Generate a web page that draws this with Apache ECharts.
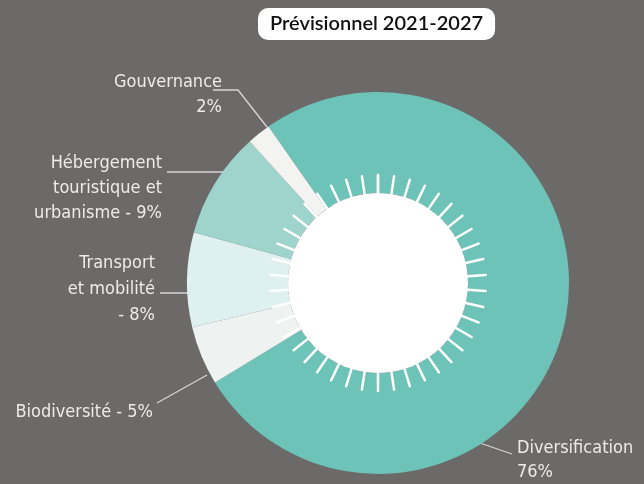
<!DOCTYPE html>
<html>
<head>
<meta charset="utf-8">
<style>
  html, body { margin: 0; padding: 0; background: #6b6a68; }
  #chart { width: 644px; height: 484px; }
</style>
<script src="https://cdn.jsdelivr.net/npm/echarts@6/dist/echarts.min.js"></script>
</head>
<body>
<div id="chart"></div>
<script>
// ---- Data ----
var categories = ['Diversification', 'Biodiversité', 'Transport et mobilité', 'Hébergement touristique et urbanisme', 'Gouvernance'];
var values = [76, 5, 8, 9, 2];
var labelTemplates = [
  'Diversification\n{v}%',
  'Biodiversité - {v}%',
  'Transport\net mobilité\n- {v}%',
  'Hébergement\ntouristique et\nurbanisme - {v}%',
  'Gouvernance\n{v}%'
];
var colors = ['#6ec3b8', '#eef3f2', '#dff0f0', '#9ed4cc', '#f3f3f1'];
var titleText = 'Prévisionnel 2021-2027';
var tickCount = 42;

// ---- Layout (style / position only) ----
var CX = 378, CY = 283, R_OUT = 191, R_IN = 90;
// label anchor & leader-line offsets relative to the pie centre
var labelLayoutCfg = [
  { x: 139, y: 177, align: 'left',  lh: 24, line: [[99, 159], [134, 171]] },
  { x: -225, y: 129, align: 'right', lh: 24, line: [[-171, 92], [-221, 120]] },
  { x: -223, y: 6,  align: 'right', lh: 26, line: [[-173, 10], [-218, 10]] },
  { x: -216, y: -95, align: 'right', lh: 25, line: [[-141, -111], [-211, -111]] },
  { x: -156, y: -188, align: 'right', lh: 25, line: [[-111, -156], [-140, -193], [-165, -193]] }
];

var chart = echarts.init(document.getElementById('chart'), null, { renderer: 'canvas' });
var FONT = '"DejaVu Sans Condensed", "Liberation Sans Narrow", "Roboto", sans-serif';

var pieData = categories.map(function (c, i) {
  var cfg = labelLayoutCfg[i];
  return {
    name: c,
    value: values[i],
    itemStyle: { color: colors[i] },
    label: {
      formatter: labelTemplates[i].replace('{v}', values[i]),
      align: cfg.align,
      lineHeight: cfg.lh
    }
  };
});

var option = {
  backgroundColor: '#6b6a68',
  animation: false,
  title: {
    text: titleText,
    left: 258,
    top: 8,
    padding: [6, 12, 6, 12],
    backgroundColor: '#ffffff',
    borderRadius: 10,
    textStyle: {
      fontFamily: '"Lato", "Open Sans", sans-serif',
      fontSize: 20,
      fontWeight: 600,
      color: '#111111'
    }
  },
  series: [
    {
      type: 'pie',
      center: [CX, CY],
      radius: [R_IN, R_OUT],
      startAngle: 125,
      clockwise: true,
      avoidLabelOverlap: false,
      emphasis: { disabled: true },
      itemStyle: { borderWidth: 0 },
      label: {
        show: true,
        position: 'outside',
        color: '#ececec',
        fontFamily: FONT,
        fontSize: 18
      },
      labelLine: {
        show: true,
        length: 20,
        length2: 20,
        lineStyle: { color: 'rgba(225,225,225,0.9)', width: 1.3 }
      },
      labelLayout: function (params) {
        var cfg = labelLayoutCfg[params.dataIndex];
        return {
          x: CX + cfg.x,
          y: CY + cfg.y,
          align: cfg.align,
          verticalAlign: 'middle',
          labelLinePoints: cfg.line.map(function (p) { return [CX + p[0], CY + p[1]]; })
        };
      },
      data: pieData,
      z: 1
    },
    {
      type: 'pie',
      center: [CX, CY],
      radius: [0, R_IN],
      silent: true,
      label: { show: false },
      labelLine: { show: false },
      itemStyle: { color: '#ffffff' },
      data: [{ value: 1, name: 'centre' }],
      z: 2
    },
    {
      type: 'gauge',
      center: [CX, CY],
      radius: 108,
      startAngle: 90,
      endAngle: -270,
      min: 0,
      max: tickCount,
      splitNumber: tickCount,
      silent: true,
      axisLine: { show: false, lineStyle: { width: 0 } },
      axisTick: { show: false },
      axisLabel: { show: false },
      pointer: { show: false },
      anchor: { show: false },
      title: { show: false },
      detail: { show: false },
      splitLine: {
        show: true,
        distance: 0,
        length: 18,
        lineStyle: { color: '#ffffff', width: 2.5, cap: 'round' }
      },
      data: [{ value: 0 }],
      z: 3
    }
  ]
};
chart.setOption(option);
</script>
</body>
</html>
